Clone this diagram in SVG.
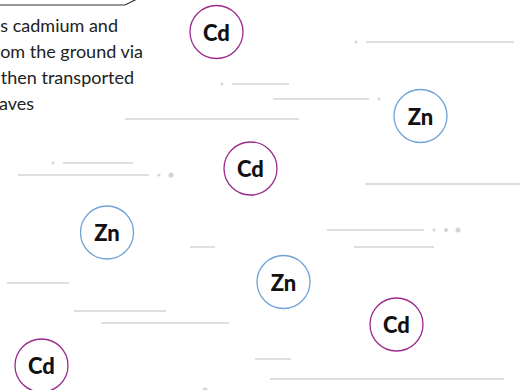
<svg xmlns="http://www.w3.org/2000/svg" width="520" height="390" viewBox="0 0 520 390">
  <style>
    .cap { font-family: Lato, "Open Sans", "Liberation Sans", sans-serif; font-size: 18px; fill: #222; text-anchor: end; }
    .el { font-family: Lato, "Open Sans", "Liberation Sans", sans-serif; font-size: 22px; font-weight: 900; fill: #111; text-anchor: middle; dominant-baseline: central; }
    .cd { fill: #fff; stroke: #9b2a8f; stroke-width: 1.3; }
    .zn { fill: #fff; stroke: #6fa3d8; stroke-width: 1.3; }
    .ln { stroke: #d6d2d2; stroke-width: 1.4; fill: none; }
    .dot { fill: #d4d2d2; }
  </style>
  <rect width="520" height="390" fill="#fff"/>

  <!-- caption box, clipped at the top-left corner -->
  <g id="caption">
    <path d="M-10 5 H125 L137 -1" fill="none" stroke="#333" stroke-width="1.2"/>
    <text class="cap" x="118" y="32">s cadmium and</text>
    <text class="cap" x="143" y="58">om the ground via</text>
    <text class="cap" x="134" y="84">then transported</text>
    <text class="cap" x="34" y="110">aves</text>
  </g>

  <!-- background streak lines and dots -->
  <g id="connectors">
    <line class="ln" x1="366" y1="42" x2="514" y2="42"/>
    <circle class="dot" cx="356" cy="42" r="1.4"/>
    <line class="ln" x1="232" y1="84" x2="289" y2="84"/>
    <circle class="dot" cx="222" cy="84" r="1.4"/>
    <line class="ln" x1="273" y1="99" x2="369" y2="99"/>
    <circle class="dot" cx="379" cy="99" r="1.4"/>
    <line class="ln" x1="125" y1="119" x2="299" y2="119"/>
    <line class="ln" x1="63" y1="163" x2="133" y2="163"/>
    <circle class="dot" cx="53" cy="163" r="1.4"/>
    <line class="ln" x1="18" y1="175" x2="149" y2="175"/>
    <circle class="dot" cx="159" cy="175" r="1.5"/>
    <circle class="dot" cx="171" cy="175" r="2.6"/>
    <line class="ln" x1="365" y1="184" x2="520" y2="184"/>
    <line class="ln" x1="327" y1="230" x2="424" y2="230"/>
    <circle class="dot" cx="434" cy="230" r="1.5"/>
    <circle class="dot" cx="446" cy="230" r="2"/>
    <circle class="dot" cx="458" cy="230" r="2.5"/>
    <line class="ln" x1="190" y1="247" x2="215" y2="247"/>
    <line class="ln" x1="354" y1="247" x2="434" y2="247"/>
    <line class="ln" x1="7" y1="283" x2="69" y2="283"/>
    <line class="ln" x1="74" y1="311" x2="166" y2="311"/>
    <line class="ln" x1="101" y1="323" x2="229" y2="323"/>
    <line class="ln" x1="255" y1="359" x2="291" y2="359"/>
    <line class="ln" x1="270" y1="379" x2="504" y2="379"/>
    <circle class="dot" cx="205" cy="390" r="2.5"/>
  </g>

  <g id="cd-1"><circle class="cd" cx="216.5" cy="32" r="26.5"/><text class="el" x="216.5" y="32">Cd</text></g>
  <g id="zn-1"><circle class="zn" cx="420.5" cy="116" r="26.5"/><text class="el" x="420.5" y="116">Zn</text></g>
  <g id="cd-2"><circle class="cd" cx="250.5" cy="168.5" r="26.5"/><text class="el" x="250.5" y="168.5">Cd</text></g>
  <g id="zn-2"><circle class="zn" cx="107" cy="232.5" r="26.5"/><text class="el" x="107" y="232.5">Zn</text></g>
  <g id="zn-3"><circle class="zn" cx="283.5" cy="282" r="26.5"/><text class="el" x="283.5" y="282">Zn</text></g>
  <g id="cd-3"><circle class="cd" cx="396.5" cy="324.5" r="26.5"/><text class="el" x="396.5" y="324.5">Cd</text></g>
  <g id="cd-4"><circle class="cd" cx="41.5" cy="365.5" r="26.5"/><text class="el" x="41.5" y="365.5">Cd</text></g>
</svg>
